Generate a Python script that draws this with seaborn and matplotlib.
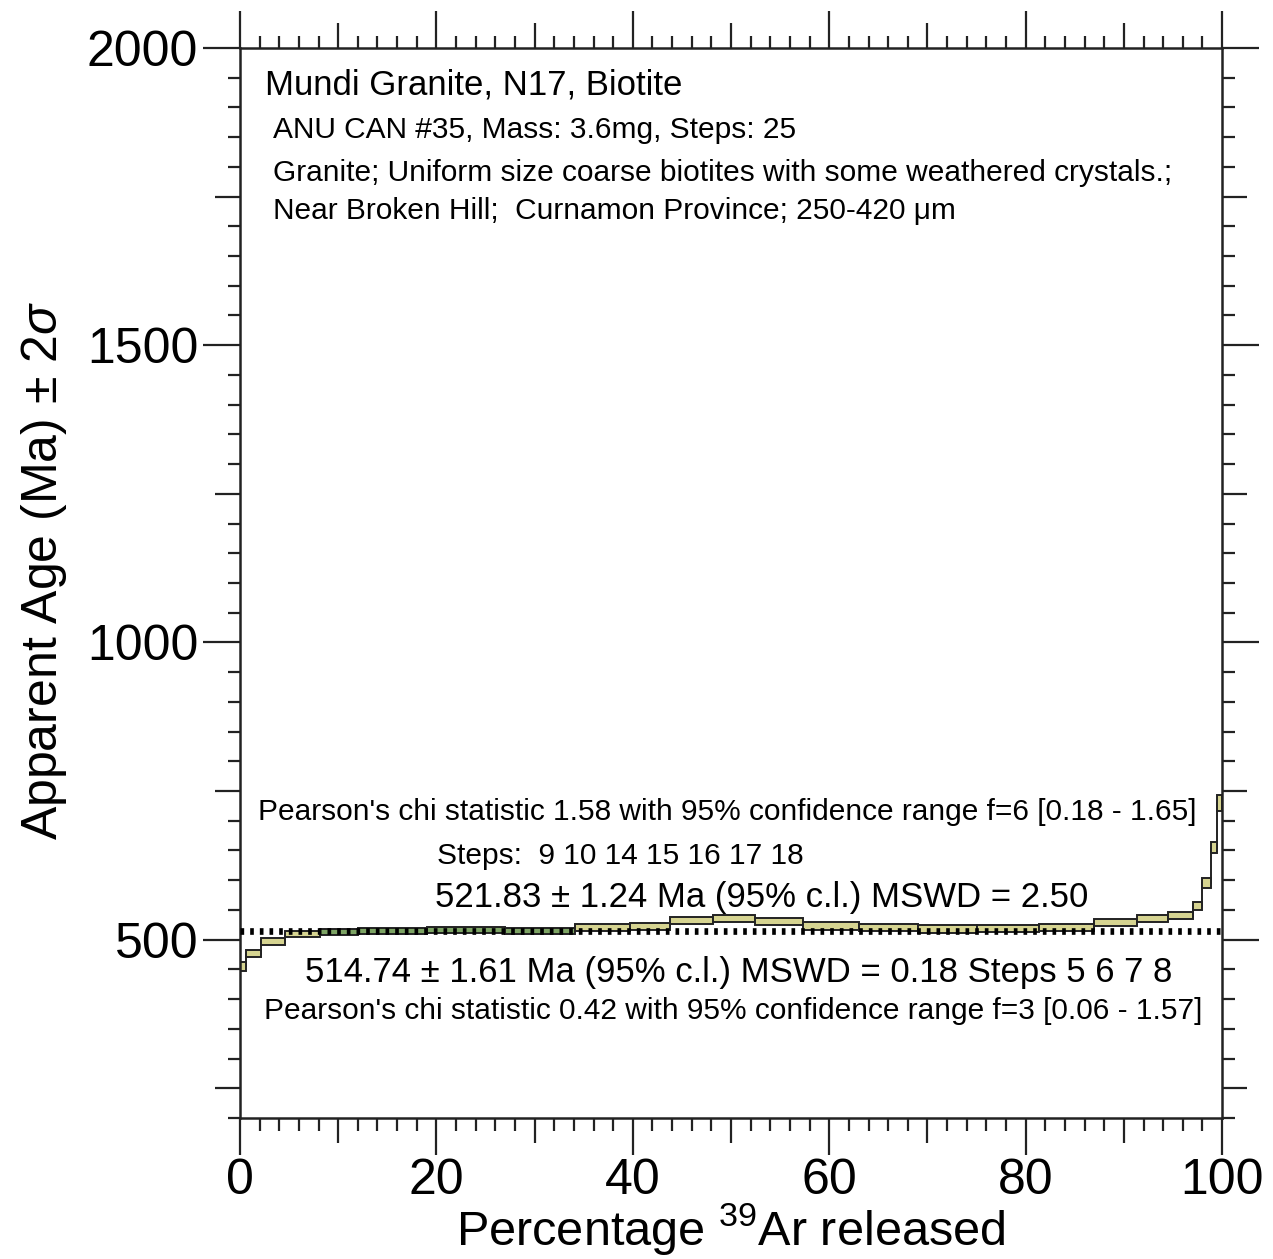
import numpy as np
import pandas as pd
import matplotlib
matplotlib.use("Agg")
import matplotlib.pyplot as plt
import seaborn as sns
from matplotlib.patches import Rectangle
from matplotlib.ticker import FixedLocator, MultipleLocator, FuncFormatter

# ---- data ----
step_no = list(range(1, 26))
cum_start = [0.0, 0.6, 2.1, 4.6, 8.1, 12.0, 19.0, 27.0, 34.1, 39.7, 43.8, 48.2, 52.4,
             57.3, 63.0, 69.0, 75.0, 81.4, 87.0, 91.3, 94.5, 97.0, 98.0, 98.9, 99.5]
cum_end = cum_start[1:] + [100.0]
ages = [455, 476, 497, 510, 513, 515, 516, 514, 521, 522, 532, 535, 530,
        523, 520, 518, 519, 520, 529, 535, 540, 557, 595, 655, 730]
errs = [8, 6, 6, 5, 5, 5, 5, 5, 6, 6, 6, 6, 6, 6, 6, 6, 6, 6, 6, 6, 6, 7, 8, 10, 13]
plateau_a_steps = [5, 6, 7, 8]
plateau_a_age = 514.74
plateau_b_steps = [9, 10, 14, 15, 16, 17, 18]

x_major = [0, 20, 40, 60, 80, 100]
y_major = [500, 1000, 1500, 2000]

title_lines = ["Mundi Granite, N17, Biotite",
               "ANU CAN #35, Mass: 3.6mg, Steps: 25",
               "Granite; Uniform size coarse biotites with some weathered crystals.;",
               "Near Broken Hill;  Curnamon Province; 250-420 \u03bcm"]
txt_b_chi = "Pearson's chi statistic 1.58 with 95% confidence range f=6 [0.18 - 1.65]"
txt_b_steps = "Steps:  9 10 14 15 16 17 18"
txt_b_age = "521.83 \u00b1 1.24 Ma (95% c.l.) MSWD = 2.50"
txt_a_age = "514.74 \u00b1 1.61 Ma (95% c.l.) MSWD = 0.18 Steps 5 6 7 8"
txt_a_chi = "Pearson's chi statistic 0.42 with 95% confidence range f=3 [0.06 - 1.57]"

df = pd.DataFrame({"step": step_no, "x0": cum_start, "x1": cum_end,
                   "age": ages, "err": errs})

sns.set_theme(style="white")
plt.rcParams["font.family"] = ["Liberation Sans", "DejaVu Sans"]
plt.rcParams["mathtext.fontset"] = "custom"
plt.rcParams["mathtext.it"] = "Liberation Sans:italic"
plt.rcParams["mathtext.rm"] = "Liberation Sans"
plt.rcParams["text.color"] = "black"
plt.rcParams["axes.labelcolor"] = "black"

fig = plt.figure(figsize=(12.73, 12.59), dpi=100)
ax = fig.add_axes([0.1885, 0.112, 0.7715, 0.8499])

fill_main = "#d6d491"
fill_green = "#7da464"
for _, r in df.iterrows():
    fc = fill_green if r.step in plateau_a_steps else fill_main
    ax.add_patch(Rectangle((r.x0, r.age - r.err), r.x1 - r.x0, 2 * r.err,
                           facecolor=fc, edgecolor="#222222", lw=1.4, zorder=2))

# step outline connecting the steps (hidden inside the boxes)
step_df = pd.DataFrame({"x": cum_start + [100.0], "y": ages + [ages[-1]]})
sns.lineplot(data=step_df, x="x", y="y", drawstyle="steps-post", sort=False,
             color="#222222", lw=1.4, ax=ax, zorder=1)

ax.axhline(plateau_a_age, color="black", lw=4.8, dashes=(0.55, 0.9),
           dash_capstyle="butt", zorder=4)

ax.set_xlim(0, 100)
ax.set_ylim(200, 2000)

# ticks
ax.xaxis.set_major_locator(FixedLocator(np.arange(0, 101, 10)))
ax.xaxis.set_major_formatter(FuncFormatter(lambda v, p: f"{int(round(v))}" if int(round(v)) in x_major else ""))
ax.xaxis.set_minor_locator(MultipleLocator(2))
ax.yaxis.set_major_locator(FixedLocator(np.arange(250, 2001, 250)))
ax.yaxis.set_major_formatter(FuncFormatter(lambda v, p: f"{int(round(v))}" if int(round(v)) in y_major else ""))
ax.yaxis.set_minor_locator(MultipleLocator(50))
ax.tick_params(which="both", direction="out", left=True, right=True, top=True, bottom=True,
               colors="#222222", width=1.6)
ax.tick_params(which="major", length=18, labelsize=36, labelcolor="black")
ax.tick_params(which="minor", length=9)
ax.tick_params(axis="y", which="major", pad=12)
ax.tick_params(axis="x", which="major", pad=11)

for axis, majors in ((ax.xaxis, x_major), (ax.yaxis, y_major)):
    locs = axis.get_majorticklocs()
    ticks = axis.get_major_ticks(len(locs))
    for loc, t in zip(locs, ticks):
        if int(round(loc)) in majors:
            t.tick1line.set_markersize(26.6)
            t.tick2line.set_markersize(26.6)

for s in ax.spines.values():
    s.set_color("#222222")
    s.set_linewidth(1.8)

ax.set_xlabel("Percentage $^{39}$Ar released", fontsize=35, labelpad=-2)
ax.set_ylabel("Apparent Age (Ma) \u00b1 2$\\it{\u03c3}$", fontsize=36, labelpad=13)
ax.yaxis.label.set_y(0.512)

# annotations
ax.text(2.5, 1938, title_lines[0], fontsize=25, ha="left", va="center")
ax.text(3.4, 1862, title_lines[1], fontsize=21.5, ha="left", va="center")
ax.text(3.4, 1790, title_lines[2], fontsize=21.5, ha="left", va="center")
ax.text(3.4, 1726, title_lines[3], fontsize=21.5, ha="left", va="center")
ax.text(49.6, 714, txt_b_chi, fontsize=21.5, ha="center", va="center")
ax.text(20.1, 641, txt_b_steps, fontsize=21.5, ha="left", va="center")
ax.text(19.9, 571, txt_b_age, fontsize=25, ha="left", va="center")
ax.text(6.6, 444, txt_a_age, fontsize=25, ha="left", va="center")
ax.text(50.2, 380, txt_a_chi, fontsize=21.5, ha="center", va="center")

fig.savefig("out.png", dpi=100)
